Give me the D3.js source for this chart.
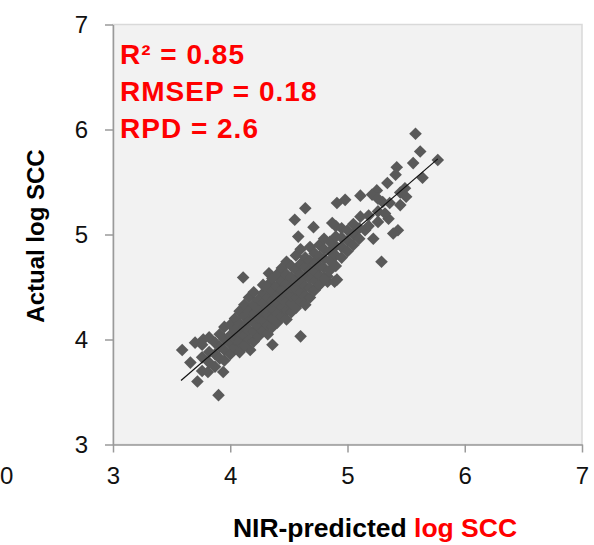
<!DOCTYPE html>
<html lang="en">
  <head>
    <meta charset="UTF-8" />
    <title>NIR-predicted vs actual log SCC</title>
    <script src="https://cdn.jsdelivr.net/npm/d3@7"></script>
    <style>
      body { margin: 0; background: #fff; }
      text { font-family: 'Liberation Sans', Arial, sans-serif; }
    </style>
  </head>
  <body>
    <div id="chart_svg"></div>
    <script>
      // axis ticks (both axes share 3..7)
      const tickValues = [3, 4, 5, 6, 7]

      // scatter: NIR-predicted log SCC vs actual log SCC
      const predicted = [
        3.59, 3.70, 3.77, 3.66, 3.72, 3.81, 3.90, 3.94, 4.11, 4.33, 4.34, 4.60, 4.36, 4.17,
        4.83, 4.89, 4.74, 5.58, 5.62, 5.56, 5.77, 5.64, 5.42, 5.41, 5.34, 5.25, 5.21, 5.49,
        5.11, 4.98, 4.91, 4.64, 4.55, 4.71, 4.58, 4.87, 5.11, 5.35, 5.43, 5.39, 5.22, 5.29,
        5.30, 5.36, 5.15, 5.06, 4.91, 4.83,
        3.76, 3.76, 3.76, 3.82, 3.82, 3.82, 3.87, 3.87, 3.87, 3.91, 3.91, 3.91,
        3.95, 3.95, 3.95, 3.95, 4.00, 4.00, 4.00, 4.00, 4.04, 4.04, 4.04, 4.04,
        4.08, 4.08, 4.08, 4.08, 4.08, 4.12, 4.12, 4.12, 4.12, 4.12,
        4.16, 4.16, 4.16, 4.16, 4.16, 4.20, 4.20, 4.20, 4.20, 4.20, 4.20,
        4.24, 4.24, 4.24, 4.24, 4.24, 4.28, 4.28, 4.28, 4.28, 4.28, 4.28,
        4.32, 4.32, 4.32, 4.32, 4.32, 4.32, 4.36, 4.36, 4.36, 4.36, 4.36, 4.36,
        4.40, 4.40, 4.40, 4.40, 4.40, 4.40, 4.44, 4.44, 4.44, 4.44, 4.44, 4.44,
        4.48, 4.48, 4.48, 4.48, 4.48, 4.48, 4.48, 4.52, 4.52, 4.52, 4.52, 4.52, 4.52,
        4.56, 4.56, 4.56, 4.56, 4.56, 4.56, 4.60, 4.60, 4.60, 4.60, 4.60, 4.60,
        4.64, 4.64, 4.64, 4.64, 4.64, 4.64, 4.68, 4.68, 4.68, 4.68, 4.68, 4.68,
        4.72, 4.72, 4.72, 4.72, 4.72, 4.76, 4.76, 4.76, 4.76, 4.76,
        4.80, 4.80, 4.80, 4.80, 4.80, 4.85, 4.85, 4.85, 4.85,
        4.90, 4.90, 4.90, 4.90, 4.90, 4.95, 4.95, 4.95, 4.95,
        5.00, 5.00, 5.00, 5.05, 5.05, 5.05, 5.10, 5.10, 5.18, 5.18,
        5.26, 5.26, 5.26, 5.32, 5.45, 5.45, 5.50
      ]
      const actual = [
        3.90, 3.97, 4.00, 3.78, 3.60, 3.69, 3.47, 3.69, 4.59, 4.63, 4.54, 4.03, 3.95, 3.90,
        4.55, 4.55, 4.50, 5.96, 5.79, 5.68, 5.71, 5.54, 5.64, 5.57, 5.49, 5.42, 5.38, 5.44,
        5.37, 5.33, 5.30, 5.25, 5.14, 5.07, 4.98, 5.11, 5.17, 5.15, 5.04, 5.01, 4.96, 4.74,
        5.31, 5.30, 5.04, 5.00, 4.57, 4.60,
        3.70, 3.83, 3.95, 3.78, 3.88, 4.02, 3.74, 3.86, 3.97, 3.82, 3.93, 4.05,
        3.80, 3.90, 4.00, 4.12, 3.86, 3.96, 4.04, 4.14, 3.92, 4.00, 4.09, 4.20,
        3.88, 3.98, 4.06, 4.15, 4.27, 3.94, 4.04, 4.12, 4.22, 4.33,
        4.00, 4.09, 4.18, 4.27, 4.40, 3.98, 4.07, 4.16, 4.24, 4.33, 4.45,
        4.03, 4.12, 4.21, 4.30, 4.38, 4.08, 4.18, 4.26, 4.35, 4.44, 4.52,
        4.05, 4.14, 4.23, 4.31, 4.40, 4.49, 4.12, 4.20, 4.29, 4.37, 4.46, 4.58,
        4.16, 4.25, 4.34, 4.42, 4.51, 4.62, 4.22, 4.31, 4.39, 4.47, 4.56, 4.68,
        4.19, 4.28, 4.36, 4.45, 4.53, 4.62, 4.74, 4.26, 4.34, 4.42, 4.50, 4.59, 4.70,
        4.30, 4.40, 4.48, 4.57, 4.66, 4.80, 4.36, 4.45, 4.54, 4.62, 4.72, 4.86,
        4.33, 4.42, 4.51, 4.60, 4.69, 4.78, 4.40, 4.49, 4.58, 4.66, 4.75, 4.88,
        4.47, 4.56, 4.64, 4.73, 4.82, 4.52, 4.61, 4.70, 4.79, 4.90,
        4.58, 4.68, 4.77, 4.86, 4.96, 4.66, 4.75, 4.84, 4.93,
        4.70, 4.80, 4.89, 4.98, 5.08, 4.78, 4.88, 4.97, 5.06,
        4.84, 4.94, 5.04, 4.90, 5.00, 5.10, 4.96, 5.06, 5.08, 5.18,
        5.12, 5.22, 5.34, 5.20, 5.40, 5.28, 5.36
      ]

      // regression line end points
      const fitX = [3.58, 5.77]
      const fitY = [3.61, 5.72]

      const statLines = ['R² = 0.85', 'RMSEP = 0.18', 'RPD = 2.6']

      const width = 594
      const height = 545
      const plotLeft = 113
      const plotRight = 582
      const plotTop = 24.5
      const plotBottom = 444.5

      const x = d3.scaleLinear().domain([3, 7]).range([plotLeft, plotRight])
      const y = d3.scaleLinear().domain([3, 7]).range([plotBottom, plotTop])

      const svg = d3
        .select('#chart_svg')
        .append('svg')
        .attr('width', width)
        .attr('height', height)

      // plot area
      svg
        .append('rect')
        .attr('x', plotLeft)
        .attr('y', plotTop)
        .attr('width', plotRight - plotLeft)
        .attr('height', plotBottom - plotTop)
        .attr('fill', '#f2f2f2')
        .attr('stroke', '#d9d9d9')
        .attr('stroke-width', 1.5)

      // points
      const r = 6.3
      const diamond = `M0,${-r}L${r},0L0,${r}L${-r},0Z`
      svg
        .append('g')
        .selectAll('path')
        .data(predicted.map((p, i) => [p, actual[i]]))
        .join('path')
        .attr('d', diamond)
        .attr('transform', d => `translate(${x(d[0])},${y(d[1])})`)
        .attr('fill', '#595959')

      // fit line
      svg
        .append('line')
        .attr('x1', x(fitX[0]))
        .attr('y1', y(fitY[0]))
        .attr('x2', x(fitX[1]))
        .attr('y2', y(fitY[1]))
        .attr('stroke', '#111')
        .attr('stroke-width', 1.2)

      // axes
      const fmt = d3.format('d')
      const xAxis = svg
        .append('g')
        .attr('transform', `translate(0,${plotBottom})`)
        .call(
          d3.axisBottom(x).tickValues(tickValues).tickFormat(fmt)
            .tickSize(8).tickSizeOuter(0).tickPadding(14)
        )
      const yAxis = svg
        .append('g')
        .attr('transform', `translate(${plotLeft},0)`)
        .call(
          d3.axisLeft(y).tickValues(tickValues).tickFormat(fmt)
            .tickSize(8).tickSizeOuter(0).tickPadding(17)
        )

      ;[xAxis, yAxis].forEach(g => {
        g.selectAll('path, line').attr('stroke', '#9a9a9a').attr('stroke-width', 1.5)
        g.selectAll('text')
          .attr('fill', '#111')
          .style('font-size', '24px')
          .style('font-family', "'Liberation Sans', Arial, sans-serif")
      })

      // partly visible label at the left edge
      svg
        .append('text')
        .attr('x', 0)
        .attr('y', 484)
        .attr('fill', '#111')
        .style('font-size', '24px')
        .text('0')

      // stats
      svg
        .append('g')
        .selectAll('text')
        .data(statLines)
        .join('text')
        .attr('x', 120)
        .attr('y', (d, i) => [64, 101, 138][i])
        .attr('fill', '#ff0000')
        .style('font-size', '28px')
        .style('font-weight', 'bold')
        .style('letter-spacing', '1px')
        .text(d => d)

      // axis titles
      svg
        .append('text')
        .attr('transform', 'translate(44,236) rotate(-90)')
        .attr('text-anchor', 'middle')
        .style('font-size', '24px')
        .style('font-weight', 'bold')
        .text('Actual log SCC')

      const xt = svg
        .append('text')
        .attr('x', 375)
        .attr('y', 537)
        .attr('text-anchor', 'middle')
        .style('font-size', '26.5px')
        .style('font-weight', 'bold')
      xt.append('tspan').text('NIR-predicted ')
      xt.append('tspan').attr('fill', '#ff0000').text('log SCC')
    </script>
  </body>
</html>
